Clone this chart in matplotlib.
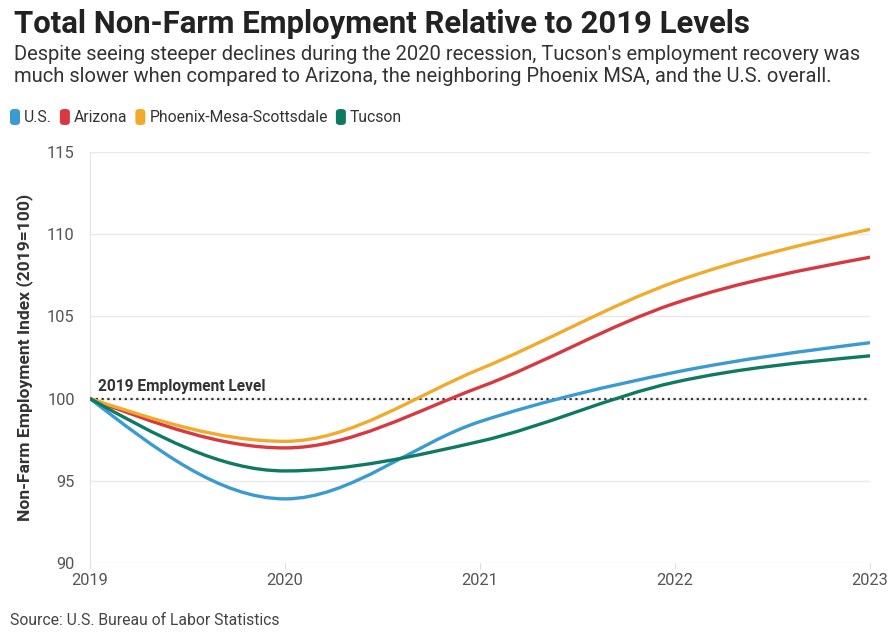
import matplotlib
matplotlib.use("Agg")
import matplotlib.pyplot as plt
from matplotlib.path import Path
from matplotlib.patches import PathPatch, FancyBboxPatch
import numpy as np

plt.rcParams['font.family'] = ['Roboto', 'DejaVu Sans']

# data (annual index, 2019 = 100)
years = [2019, 2020, 2021, 2022, 2023]
series_names = ["U.S.", "Arizona", "Phoenix-Mesa-Scottsdale", "Tucson"]
us = [100.0, 93.9, 98.6, 101.6, 103.4]
arizona = [100.0, 97.0, 100.7, 105.8, 108.6]
phoenix = [100.0, 97.4, 101.8, 107.1, 110.3]
tucson = [100.0, 95.6, 97.4, 101.0, 102.6]
colors = ["#3a9bd3", "#d8383f", "#f2aa2c", "#0f7a62"]
yticks = [90, 95, 100, 105, 110, 115]


def monotone_path(x, y):
    # bezier segments with monotone (d3 curveMonotoneX style) tangents
    x = np.asarray(x, float)
    y = np.asarray(y, float)
    h = np.diff(x)
    s = np.diff(y) / h
    t = np.zeros(len(x))
    for i in range(1, len(x) - 1):
        p = (s[i - 1] * h[i] + s[i] * h[i - 1]) / (h[i - 1] + h[i])
        t[i] = (np.sign(s[i - 1]) + np.sign(s[i])) * min(abs(s[i - 1]), abs(s[i]), 0.5 * abs(p))
    t[0] = (3 * s[0] - t[1]) / 2
    t[-1] = (3 * s[-1] - t[-2]) / 2
    verts = [(x[0], y[0])]
    codes = [Path.MOVETO]
    for i in range(len(x) - 1):
        dx = h[i] / 3
        verts += [(x[i] + dx, y[i] + dx * t[i]),
                  (x[i + 1] - dx, y[i + 1] - dx * t[i + 1]),
                  (x[i + 1], y[i + 1])]
        codes += [Path.CURVE4] * 3
    return Path(verts, codes)


fig = plt.figure(figsize=(8.92, 6.36), dpi=100)
ax = fig.add_axes([0.1009, 0.1148, 0.8744, 0.6462])

for vals, c in zip([us, arizona, phoenix, tucson], colors):
    ax.add_patch(PathPatch(monotone_path(years, vals), facecolor="none",
                           edgecolor=c, lw=2.4, capstyle="round", zorder=3))

ax.axhline(100, color="#333333", lw=1.6, ls=(0, (1, 1.6)), zorder=2)
ax.text(2019.04, 100.3, "2019 Employment Level", fontsize=11.2, fontweight="bold",
        color="#333333", ha="left", va="bottom")

ax.set_xlim(2019, 2023)
ax.set_ylim(90, 115)
ax.set_xticks(years)
ax.set_xticklabels([str(y) for y in years])
ax.set_yticks(yticks)
ax.grid(axis="y", color="#e9e9e9", lw=1)
ax.set_axisbelow(True)
for side in ["top", "right", "bottom"]:
    ax.spines[side].set_visible(False)
ax.spines["left"].set_color("#e4e4e4")
ax.tick_params(axis="y", length=0, pad=11, labelsize=11.8, labelcolor="#555555")
ax.tick_params(axis="x", length=4, color="#dddddd", pad=3, labelsize=11.8, labelcolor="#555555")
ax.set_ylabel("Non-Farm Employment Index (2019=100)", fontsize=12.6, fontweight="bold",
              color="#333333", labelpad=10)

fig.text(0.016, 0.963, "Total Non-Farm Employment Relative to 2019 Levels", fontsize=22.4,
         fontweight="bold", color="#222222", va="center", ha="left")
fig.text(0.016, 0.897, "Despite seeing steeper declines during the 2020 recession, Tucson's employment recovery was\n"
         "much slower when compared to Arizona, the neighboring Phoenix MSA, and the U.S. overall.",
         fontsize=14.5, color="#333333", va="center", ha="left", linespacing=1.15)

# legend row
lx = 10
for name, c in zip(series_names, colors):
    fig.patches.append(FancyBboxPatch((lx / 892, 1 - 125 / 636), 10 / 892, 16 / 636,
                                      boxstyle="round,pad=0,rounding_size=0.005",
                                      transform=fig.transFigure, facecolor=c, edgecolor="none"))
    t = fig.text((lx + 14) / 892, 1 - 117 / 636, name, fontsize=11.3, color="#333333",
                 va="center", ha="left")
    fig.canvas.draw()
    bb = t.get_window_extent()
    lx = bb.x1 + 8

fig.text(0.011, 0.025, "Source: U.S. Bureau of Labor Statistics", fontsize=11.3,
         color="#444444", va="center", ha="left")

fig.savefig("out.png", dpi=100, facecolor="white")
